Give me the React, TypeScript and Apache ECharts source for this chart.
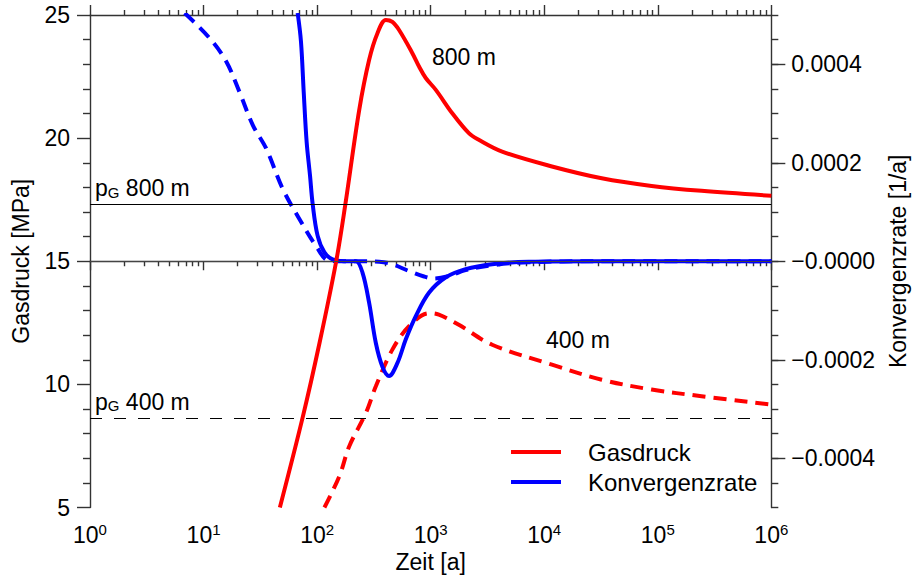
import React, { useEffect, useRef } from 'react';
import * as echarts from 'echarts';

const FONT = '"Liberation Sans", Arial, Helvetica, sans-serif';
const AXIS_COLOR = '#333';

// Gasdruck [MPa] over Zeit [a], 800 m depth (solid)
const gasTime800 = [47, 75, 105, 147, 177, 235, 287, 340, 403, 460, 527, 690, 790, 905, 1110, 1550, 2170, 2650, 4260, 11700, 32100, 88300, 243000, 1000000];
const gasPressure800 = [5.0, 8.7, 11.68, 14.98, 17.29, 21.15, 23.17, 24.26, 24.8, 24.72, 24.39, 23.45, 22.91, 22.44, 21.96, 21.01, 20.2, 19.93, 19.45, 18.85, 18.37, 18.06, 17.86, 17.66];

// Gasdruck [MPa], 400 m depth (dashed)
const gasTime400 = [116, 157, 192, 269, 329, 460, 645, 966, 1180, 1770, 3480, 11700, 32100, 88300, 243000, 1000000];
const gasPressure400 = [5.0, 6.27, 7.49, 8.84, 9.92, 11.41, 12.36, 12.89, 12.83, 12.42, 11.61, 10.8, 10.19, 9.79, 9.52, 9.18];

// Konvergenzrate [1/a], 800 m depth (solid)
const rateTime800 = [67.4, 72.1, 76.2, 80.9, 86.6, 91.4, 101, 116, 137, 192, 220, 251, 287, 329, 376, 430, 509, 603, 738, 966, 1350, 2030, 3480, 7300, 30000, 1000000];
const rate800 = [5.04e-4, 4.46e-4, 3.44e-4, 2.42e-4, 1.74e-4, 1.16e-4, 0.52e-4, 0.18e-4, 0.04e-4, 0, 0, -0.23e-4, -0.84e-4, -1.66e-4, -2.14e-4, -2.33e-4, -2.07e-4, -1.59e-4, -1.12e-4, -0.64e-4, -0.33e-4, -0.16e-4, -0.06e-4, -0.01e-4, 0, 0];

// Konvergenzrate [1/a], 400 m depth (dashed)
const rateTime400 = [6.82, 11.3, 15.8, 20.7, 27.2, 35.6, 49.8, 69.8, 97.8, 128, 220, 352, 457, 645, 874, 1070, 1450, 2030, 3480, 7300, 30000, 1000000];
const rate400 = [5.04e-4, 4.53e-4, 4.06e-4, 3.44e-4, 2.76e-4, 2.29e-4, 1.47e-4, 0.86e-4, 0.31e-4, 0.01e-4, 0, -0.01e-4, -0.06e-4, -0.2e-4, -0.31e-4, -0.35e-4, -0.3e-4, -0.18e-4, -0.08e-4, -0.02e-4, 0, 0];

// Hydrostatic gas pressure levels [MPa]
const pG800 = 17.3;
const pG400 = 8.63;
const zeroLevel = 15;

// Axis ticks
const decadeTicks = [1, 10, 100, 1000, 10000, 100000, 1000000];
const minorTimeTicks = [
  2, 3, 4, 5, 6, 7, 8, 9,
  20, 30, 40, 50, 60, 70, 80, 90,
  200, 300, 400, 500, 600, 700, 800, 900,
  2000, 3000, 4000, 5000, 6000, 7000, 8000, 9000,
  20000, 30000, 40000, 50000, 60000, 70000, 80000, 90000,
  200000, 300000, 400000, 500000, 600000, 700000, 800000, 900000,
];
const rateTicks = [-0.0004, -0.0002, 0, 0.0002, 0.0004];

const pairs = (xs: number[], ys: number[]) => xs.map((x, i) => [x, ys[i]]);

export default function App() {
  const ref = useRef<HTMLDivElement>(null);

  useEffect(() => {
    if (!ref.current) return;
    const chart = echarts.init(ref.current, undefined, { renderer: 'svg' });

    const lineStyle = { color: AXIS_COLOR, width: 1.4 };
    const logBase: any = {
      type: 'log',
      logBase: 10,
      min: 1,
      max: 1000000,
      splitLine: { show: false },
      minorSplitLine: { show: false },
      silent: true,
    };
    const curve = (color: string, dashed: boolean) => ({
      showSymbol: false,
      smooth: 0.35,
      color,
      itemStyle: { color },
      lineStyle: { color, width: 4, type: dashed ? [13, 8] : 'solid' },
    });

    const option: any = {
      animation: false,
      backgroundColor: '#fff',
      textStyle: { fontFamily: FONT, color: '#000' },
      grid: { left: 90, right: 143.5, top: 15, bottom: 74.5, containLabel: false },
      legend: {
        show: true,
        orient: 'vertical',
        left: 511,
        top: 440,
        padding: 0,
        icon: 'rect',
        itemWidth: 50,
        itemHeight: 4,
        itemGap: 6,
        data: ['Gasdruck', 'Konvergenzrate'],
        textStyle: { fontSize: 24, color: '#000', fontFamily: FONT, padding: [0, 0, 0, 22] },
        selectedMode: false,
      },
      xAxis: [
        {
          ...logBase,
          position: 'bottom',
          axisLine: { show: true, lineStyle },
          axisTick: { show: true, customValues: decadeTicks, length: 9, lineStyle },
          axisLabel: {
            show: true,
            customValues: decadeTicks,
            margin: 14,
            formatter: (v: number) => `{b|10}{s|${Math.round(Math.log10(v))}}`,
            rich: {
              b: { fontSize: 23, fontFamily: FONT, color: '#000', lineHeight: 26 },
              s: { fontSize: 15, fontFamily: FONT, color: '#000', lineHeight: 15, verticalAlign: 'top' },
            },
          },
          name: 'Zeit [a]',
          nameLocation: 'middle',
          nameGap: 42,
          nameTextStyle: { fontSize: 23, color: '#000', fontFamily: FONT },
        },
        {
          ...logBase,
          position: 'bottom',
          axisLine: { show: false },
          axisTick: { show: true, customValues: minorTimeTicks, length: 5, lineStyle },
          axisLabel: { show: false },
        },
        {
          ...logBase,
          position: 'top',
          axisLine: { show: true, lineStyle },
          axisTick: { show: true, customValues: decadeTicks, length: 10, lineStyle },
          axisLabel: { show: false },
        },
        {
          ...logBase,
          position: 'top',
          axisLine: { show: false },
          axisTick: { show: true, customValues: minorTimeTicks, length: 5, lineStyle },
          axisLabel: { show: false },
        },
      ],
      yAxis: [
        {
          type: 'value',
          position: 'left',
          min: 5,
          max: 25,
          interval: 5,
          axisLine: { show: true, lineStyle },
          axisTick: { show: true, length: 13, lineStyle },
          minorTick: { show: true, splitNumber: 5, length: 7, lineStyle },
          splitLine: { show: false },
          minorSplitLine: { show: false },
          axisLabel: { fontSize: 23, margin: 20, color: '#000', fontFamily: FONT },
          name: 'Gasdruck [MPa]',
          nameLocation: 'middle',
          nameGap: 58,
          nameRotate: 90,
          nameTextStyle: { fontSize: 23, color: '#000', fontFamily: FONT },
        },
        {
          type: 'value',
          position: 'right',
          min: -0.0005,
          max: 0.0005,
          interval: 0.00005,
          axisLine: { show: true, lineStyle },
          axisTick: { show: true, length: 7, lineStyle },
          axisLabel: { show: false },
          splitLine: { show: false },
        },
        {
          type: 'value',
          position: 'right',
          min: -0.0005,
          max: 0.0005,
          interval: 0.0001,
          axisLine: { show: false },
          axisTick: { show: true, customValues: rateTicks, length: 14, lineStyle },
          axisLabel: {
            show: true,
            customValues: rateTicks,
            margin: 20,
            fontSize: 23,
            color: '#000',
            fontFamily: FONT,
            formatter: (v: number) => (v > 0 ? '' : '\u2212') + Math.abs(v).toFixed(4),
          },
          splitLine: { show: false },
          name: 'Konvergenzrate [1/a]',
          nameLocation: 'middle',
          nameGap: 112,
          nameRotate: 90,
          nameTextStyle: { fontSize: 23, color: '#000', fontFamily: FONT },
        },
      ],
      series: [
        {
          name: 'ref',
          type: 'line',
          data: [],
          xAxisIndex: 0,
          yAxisIndex: 0,
          silent: true,
          markLine: {
            silent: true,
            symbol: ['none', 'none'],
            label: {
              show: true,
              position: 'insideStartTop',
              distance: 5,
              fontSize: 23,
              color: '#000',
              fontFamily: FONT,
              rich: {
                g: { fontSize: 15, fontFamily: FONT, color: '#000', verticalAlign: 'bottom', lineHeight: 18 },
              },
            },
            data: [
              { yAxis: pG800, lineStyle: { color: '#000', width: 1, type: 'solid' }, label: { formatter: 'p{g|G} 800 m' } },
              { yAxis: zeroLevel, lineStyle: { color: '#444', width: 1, type: 'solid' }, label: { show: false } },
              { yAxis: pG400, lineStyle: { color: '#000', width: 1, type: [12, 12] }, label: { formatter: 'p{g|G} 400 m' } },
            ],
          },
        },
        {
          name: 'Konvergenzrate 400 m',
          type: 'line',
          xAxisIndex: 0,
          yAxisIndex: 2,
          data: pairs(rateTime400, rate400),
          ...curve('#0000ff', true),
        },
        {
          name: 'Gasdruck 400 m',
          type: 'line',
          xAxisIndex: 0,
          yAxisIndex: 0,
          data: pairs(gasTime400, gasPressure400),
          ...curve('#ff0000', true),
        },
        {
          name: 'Konvergenzrate',
          type: 'line',
          xAxisIndex: 0,
          yAxisIndex: 2,
          data: pairs(rateTime800, rate800),
          ...curve('#0000ff', false),
        },
        {
          name: 'Gasdruck',
          type: 'line',
          xAxisIndex: 0,
          yAxisIndex: 0,
          data: pairs(gasTime800, gasPressure800),
          ...curve('#ff0000', false),
        },
      ],
      graphic: [
        { type: 'text', left: 432, top: 45, silent: true, style: { text: '800 m', fontSize: 23, fontFamily: FONT, fill: '#000' } },
        { type: 'text', left: 546, top: 328.5, silent: true, style: { text: '400 m', fontSize: 23, fontFamily: FONT, fill: '#000' } },
      ],
    };

    chart.setOption(option);
    return () => chart.dispose();
  }, []);

  return (
    <div
      ref={ref}
      style={{ position: 'fixed', left: 0, top: 0, width: 917, height: 582, background: '#fff' }}
    />
  );
}
